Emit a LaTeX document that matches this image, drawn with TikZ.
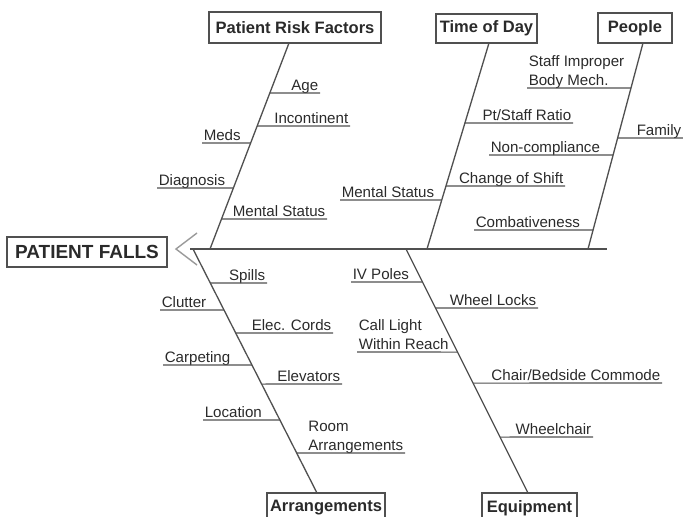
\documentclass[tikz,border=0pt]{standalone}
\usepackage{fontspec}
\setmainfont{Liberation Sans}
\definecolor{fbline}{HTML}{505050}
\definecolor{fbtext}{HTML}{2A2A2A}
\definecolor{fbhead}{HTML}{9A9A9A}
\tikzset{
  cause/.style={rectangle, draw=fbline, line width=0.7pt, fill=white, text=fbtext,
    font=\fontsize{9.4}{11}\selectfont\bfseries, inner sep=0pt, minimum height=0.6cm},
  bone/.style={fbline, line width=0.75pt},
  rib/.style={fbline, line width=0.6pt},
  lbl/.style={font=\fontsize{8.6}{10.8}\selectfont, text=fbtext, inner xsep=0.8pt,
    inner ysep=1.2pt, text depth=0pt},
}
\begin{document}
\begin{tikzpicture}[x=0.02cm, y=-0.02cm]
            \useasboundingbox (0,0) rectangle (683,517);
            \clip (0,0) rectangle (683,517);
            % effect and main causes
            \node[cause, minimum width=3.2cm, font=\fontsize{10.8}{12}\selectfont\bfseries] (falls) at (87,252) {PATIENT FALLS};
            \node[cause, minimum width=3.44cm, minimum height=0.62cm] (prf) at (295,27.5) {Patient Risk Factors};
            \node[cause, minimum width=2.02cm, minimum height=0.58cm] (tod) at (486.5,28.5) {Time of Day};
            \node[cause, minimum width=1.48cm] (people) at (635,28) {People};
            \node[cause, minimum width=2.36cm] (arr) at (326,508) {Arrangements};
            \node[cause, minimum width=1.9cm] (equip) at (529.5,508) {Equipment};
            % bone ends
            \coordinate (prf-top) at (289,43);   \coordinate (prf-foot) at (210,249);
            \coordinate (tod-top) at (489,43);   \coordinate (tod-foot) at (427,249);
            \coordinate (people-top) at (643,43); \coordinate (people-foot) at (588,249);
            \coordinate (arr-top) at (193,249);  \coordinate (arr-foot) at (317,493);
            \coordinate (equip-top) at (406,249); \coordinate (equip-foot) at (528,493);
            \coordinate (spine-start) at (190,249); \coordinate (spine-end) at (607,249);
            \coordinate (head) at (176,249);
            \draw[bone] (spine-start) -- (spine-end);
            \draw[fbhead, line width=0.8pt] (197,233) -- (head) -- (197,265);
            \foreach \bn in {prf,tod,people,arr,equip}
              \draw[bone] (\bn-top) -- (\bn-foot);
            % Patient Risk Factors
            \node[lbl, anchor=south east] (age) at (320,93) {Age};
            \node[lbl, anchor=south east] (incont) at (350,126) {Incontinent};
            \node[lbl, anchor=south west] (meds) at (202,143) {Meds};
            \node[lbl, anchor=south west] (diag) at (157,188) {Diagnosis};
            \node[lbl, anchor=south east] (mentA) at (327,219) {Mental Status};
            % Time of Day
            \node[lbl, anchor=south east] (ratio) at (573,123) {Pt/Staff Ratio};
            \node[lbl, anchor=south east] (shift) at (565,186) {Change of Shift};
            \node[lbl, anchor=south west] (mentB) at (340,200) {Mental Status};
            % People
            \node[lbl, anchor=south west, align=left] (staff) at (527,88) {Staff Improper\\Body Mech.};
            \node[lbl, anchor=south east] (family) at (683,138) {Family};
            \node[lbl, anchor=south west] (noncomp) at (489,155) {Non-compliance};
            \node[lbl, anchor=south west] (combat) at (474,230) {Combativeness};
            % Arrangements
            \node[lbl, anchor=south east] (spills) at (267,283) {Spills};
            \node[lbl, anchor=south west] (clutter) at (160,310) {Clutter};
            \node[lbl, anchor=south east] (cords) at (333,333) {Elec. Cords};
            \node[lbl, anchor=south west] (carpet) at (163,365) {Carpeting};
            \node[lbl, anchor=south east] (elev) at (342,384) {Elevators};
            \node[lbl, anchor=south west] (location) at (203,420) {Location};
            \node[lbl, anchor=south east, align=left] (room) at (405,453) {Room\\Arrangements};
            % Equipment
            \node[lbl, anchor=south west] (ivpoles) at (351,282) {IV Poles};
            \node[lbl, anchor=south east] (locks) at (538,308) {Wheel Locks};
            \node[lbl, anchor=south west, align=left] (call) at (357,352) {Call Light\\Within Reach};
            \node[lbl, anchor=south east] (commode) at (662,383) {Chair/Bedside Commode};
            \node[lbl, anchor=south east] (wheelchair) at (593,437) {Wheelchair};
            % ribs
            \foreach \lab/\bn/\far in {age/prf/east, incont/prf/east, meds/prf/west, diag/prf/west, mentA/prf/east,
                ratio/tod/east, shift/tod/east, mentB/tod/west,
                staff/people/west, family/people/east, noncomp/people/west, combat/people/west,
                spills/arr/east, clutter/arr/west, cords/arr/east, carpet/arr/west, elev/arr/east, location/arr/west, room/arr/east,
                ivpoles/equip/west, locks/equip/east, call/equip/west, commode/equip/east, wheelchair/equip/east}
              \draw[rib] (\lab.south \far) -- (intersection of \bn-top--\bn-foot and \lab.south west--\lab.south east);
        \end{tikzpicture}
\end{document}
